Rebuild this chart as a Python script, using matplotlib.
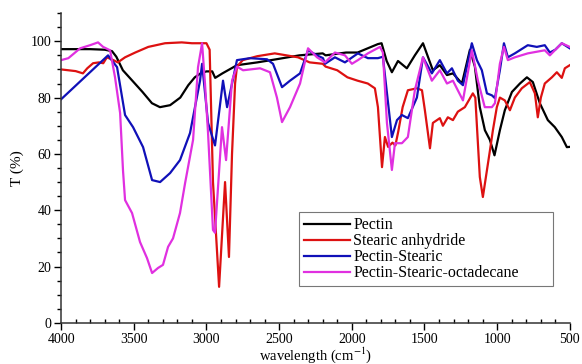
import matplotlib
matplotlib.use('Agg')
import matplotlib.pyplot as plt
from matplotlib.ticker import MultipleLocator

# FTIR spectra (wavenumber cm-1, transmittance %)
pectin_wn = [4000, 3800, 3700, 3650, 3620, 3575, 3510, 3440, 3375, 3320, 3250, 3180,
             3125, 3080, 3040, 3000, 2960, 2940, 2890, 2790, 2650, 2520, 2360, 2200,
             2180, 2040, 1960, 1820, 1795, 1760, 1724, 1682, 1621, 1566, 1510, 1442,
             1394, 1345, 1304, 1242, 1187, 1153, 1119, 1084, 1050, 1018, 981, 947,
             898, 843, 795, 754, 706, 651, 603, 555, 520, 500]
pectin_t = [97.2, 97.2, 97.0, 96.5, 94.5, 89.7, 86.0, 82.0, 78.0, 76.6, 77.3, 80.0,
            84.4, 87.2, 88.6, 89.3, 89.3, 87.0, 88.6, 91.5, 92.5, 93.6, 95.0, 95.7,
            95.0, 96.0, 96.0, 99.0, 99.3, 93.0, 89.0, 93.0, 90.4, 95.0, 99.3, 89.7,
            91.5, 88.0, 88.6, 85.0, 97.0, 91.0, 76.6, 68.4, 65.0, 59.5, 68.4, 75.5,
            82.0, 85.0, 87.2, 85.5, 78.0, 72.0, 69.5, 66.0, 62.4, 62.5]

stearic_wn = [4000, 3900, 3850, 3820, 3780, 3740, 3710, 3685, 3640, 3610, 3560, 3490,
              3400, 3285, 3170, 3100, 3000, 2978, 2955, 2913, 2872, 2845, 2824, 2803,
              2790, 2750, 2650, 2530, 2370, 2290, 2200, 2180, 2100, 2030, 1960, 1890,
              1841, 1820, 1792, 1772, 1750, 1720, 1700, 1680, 1650, 1614, 1552, 1517,
              1497, 1462, 1442, 1394, 1373, 1339, 1304, 1270, 1222, 1167, 1150, 1119,
              1098, 1050, 1029, 1002, 981, 947, 912, 878, 830, 775, 740, 720, 699,
              672, 623, 589, 555, 534, 500]
stearic_t = [90.0, 89.4, 88.6, 90.4, 92.2, 92.5, 92.2, 94.3, 93.3, 92.5, 94.3, 96.0,
             98.0, 99.3, 99.6, 99.3, 99.3, 97.0, 50.0, 12.8, 50.0, 23.4, 60.0, 85.0,
             91.0, 93.3, 94.7, 95.7, 94.3, 92.5, 92.0, 91.0, 89.7, 87.2, 86.0, 85.0,
             83.3, 76.6, 55.3, 66.0, 62.5, 64.0, 63.0, 68.0, 76.6, 82.6, 83.3, 82.6,
             75.5, 62.0, 71.0, 72.7, 70.0, 73.0, 72.0, 75.0, 76.6, 81.5, 80.0, 51.8,
             44.7, 61.0, 68.4, 76.6, 80.0, 79.0, 75.5, 80.0, 83.3, 85.5, 81.5, 73.0, 80.0,
             85.0, 87.2, 89.0, 87.0, 90.4, 91.5]

ps_wn = [4000, 3677, 3615, 3560, 3505, 3436, 3374, 3319, 3250, 3182, 3113, 3044,
         3030, 2989, 2941, 2886, 2858, 2790, 2700, 2583, 2542, 2480, 2425, 2356,
         2301, 2239, 2198, 2184, 2116, 2047, 1958, 1889, 1820, 1786, 1724, 1689,
         1655, 1614, 1552, 1510, 1449, 1394, 1345, 1311, 1270, 1235, 1174, 1139,
         1105, 1070, 1036, 1015, 981, 953, 926, 878, 789, 727, 672, 637, 600, 555, 500]
ps_t = [79.4, 95.0, 90.8, 73.8, 69.5, 62.4, 50.7, 50.0, 53.2, 57.8, 67.4, 86.0,
        92.0, 71.0, 63.0, 86.0, 76.6, 93.3, 94.0, 93.6, 92.0, 83.7, 86.0, 88.6,
        96.8, 95.0, 94.0, 92.0, 94.3, 92.5, 95.7, 94.0, 94.0, 94.5, 66.0, 72.0,
        73.8, 72.7, 80.0, 94.3, 88.6, 93.3, 88.6, 90.4, 86.0, 84.4, 99.3, 93.3,
        89.7, 81.5, 80.8, 79.8, 89.7, 99.3, 94.3, 95.7, 98.6, 98.0, 98.6, 96.0, 97.0, 99.3, 97.5]

pso_wn = [4000, 3950, 3869, 3801, 3746, 3711, 3663, 3629, 3594, 3574, 3560, 3512,
          3457, 3409, 3374, 3333, 3299, 3264, 3230, 3182, 3147, 3092, 3058, 3030,
          3010, 2989, 2955, 2941, 2893, 2865, 2824, 2790, 2748, 2631, 2563, 2515,
          2480, 2425, 2356, 2301, 2239, 2184, 2116, 2047, 1999, 1958, 1889, 1806,
          1786, 1758, 1724, 1703, 1655, 1614, 1566, 1510, 1449, 1394, 1345, 1304,
          1235, 1174, 1132, 1085, 1036, 1015, 981, 953, 926, 878, 789, 672, 637,
          555, 500]
pso_t = [93.3, 94.0, 97.5, 98.6, 99.6, 98.0, 96.8, 87.2, 74.5, 54.0, 43.6, 39.0,
         28.7, 23.0, 17.7, 19.5, 20.6, 27.0, 30.0, 39.0, 49.6, 65.0, 90.8, 99.3,
         85.0, 67.4, 33.0, 32.0, 69.5, 57.8, 86.0, 91.0, 89.7, 90.4, 89.0, 80.0,
         71.3, 76.6, 85.0, 97.5, 94.3, 92.5, 96.0, 95.0, 92.0, 93.3, 95.7, 98.0,
         96.0, 71.0, 54.3, 63.8, 63.8, 66.0, 82.6, 94.3, 86.0, 89.7, 85.0, 86.0,
         79.0, 96.8, 86.0, 76.6, 76.6, 78.0, 92.0, 98.0, 93.3, 94.3, 95.7, 96.8, 95.0,
         99.3, 98.0]

labels = ['Pectin', 'Stearic anhydride', 'Pectin-Stearic', 'Pectin-Stearic-octadecane']
colors = ['#000000', '#dd1111', '#1010b8', '#e030e0']

plt.rcParams['font.family'] = ['Liberation Serif', 'DejaVu Serif']
plt.rcParams['mathtext.fontset'] = 'stix'

fig = plt.figure(figsize=(5.82, 3.64), dpi=100)
ax = fig.add_axes([0.105, 0.113, 0.874, 0.851])

series = [(pectin_wn, pectin_t), (stearic_wn, stearic_t), (ps_wn, ps_t), (pso_wn, pso_t)]
for (wn, t), lab, col in zip(series, labels, colors):
    ax.plot(wn, t, color=col, lw=1.6, label=lab)

ax.set_xlim(4000, 500)
ax.set_ylim(0, 110)
ax.xaxis.set_major_locator(MultipleLocator(500))
ax.xaxis.set_minor_locator(MultipleLocator(100))
ax.yaxis.set_minor_locator(MultipleLocator(5))
ax.set_yticks([0, 20, 40, 60, 80, 100])

ax.spines['top'].set_visible(False)
ax.spines['right'].set_visible(False)
for s in ['left', 'bottom']:
    ax.spines[s].set_linewidth(1.1)
    ax.spines[s].set_color('#333333')

ax.tick_params(axis='x', which='major', direction='out', length=5, width=1, labelsize=10, pad=2)
ax.tick_params(axis='x', which='minor', direction='in', length=3, width=1)
ax.tick_params(axis='y', which='major', direction='out', length=5, width=1, labelsize=10, pad=2)
ax.tick_params(axis='y', which='minor', direction='out', length=3, width=1)

ax.set_xlabel('wavelength (cm$^{-1}$)', fontsize=10.5, labelpad=0)
ax.set_ylabel('T (%)', fontsize=11, labelpad=5)

leg = ax.legend(loc='lower left', bbox_to_anchor=(0.468, 0.119, 0.499, 0.246),
                mode='expand', fontsize=11.5,
                fancybox=False, framealpha=1, edgecolor='#777777',
                handlelength=2.9, handletextpad=0.2, labelspacing=0.0,
                borderpad=0.3, borderaxespad=0)
leg.get_frame().set_linewidth(0.8)

fig.savefig('out.png', dpi=100)
